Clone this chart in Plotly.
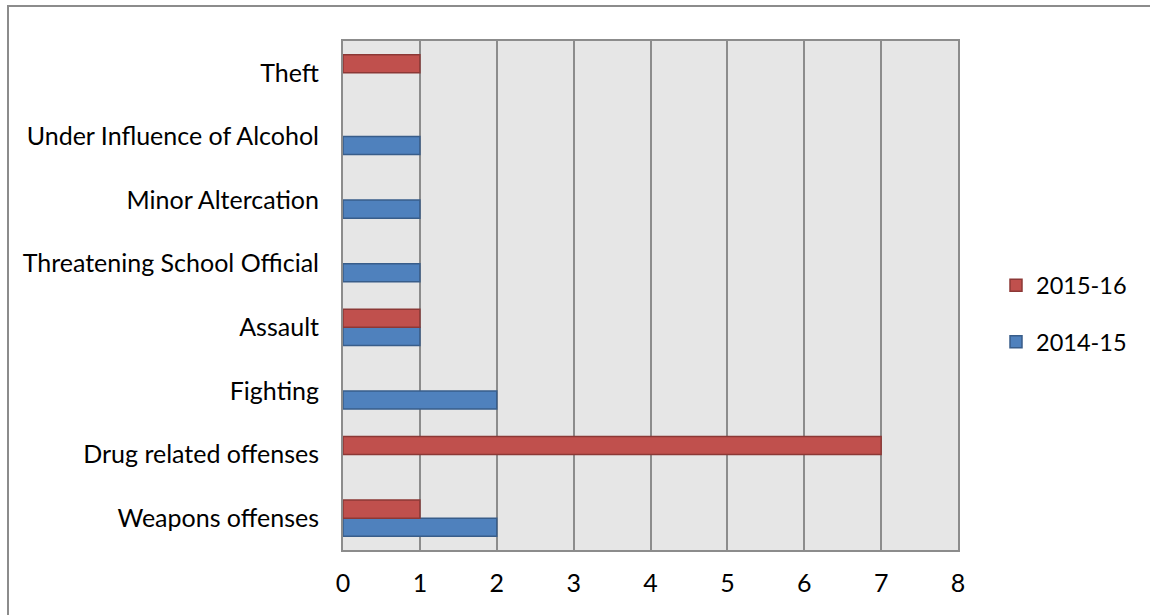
import plotly.graph_objects as go

categories = ["Weapons offenses", "Drug related offenses", "Fighting", "Assault",
              "Threatening School Official", "Minor Altercation",
              "Under Influence of Alcohol", "Theft"]
s_2014_15 = [2, None, 2, 1, 1, 1, 1, None]
s_2015_16 = [1, 7, None, 1, None, None, None, 1]
x_ticks = [0, 1, 2, 3, 4, 5, 6, 7, 8]

FONT = "Lato, 'Open Sans', sans-serif"

fig = go.Figure()
fig.add_trace(go.Bar(
    y=categories, x=s_2014_15, orientation="h", name="2014-15",
    marker=dict(color="#4F81BD", line=dict(color="#385D8A", width=1.5)),
    legendgroup="b", legendrank=2,
))
fig.add_trace(go.Bar(
    y=categories, x=s_2015_16, orientation="h", name="2015-16",
    marker=dict(color="#C0504D", line=dict(color="#8C3836", width=1.5)),
    legendgroup="a", legendrank=1,
))

L, R, T, B = 343, 192, 41, 65
W, H = 1150, 615
pw, ph = W - L - R, H - T - B

fig.update_layout(
    width=W, height=H,
    margin=dict(l=L, r=R, t=T, b=B),
    barmode="group", bargap=0.43, bargroupgap=0,
    plot_bgcolor="#E6E6E6", paper_bgcolor="white",
    font=dict(family=FONT, size=25, color="black"),
    legend=dict(x=1 + 38 / pw, y=1 - (314 - T) / ph, xanchor="left", yanchor="middle",
                tracegroupgap=23, font=dict(size=23.5),
                itemwidth=30, traceorder="grouped"),
    xaxis=dict(range=[0, 8], tickvals=x_ticks, showgrid=True,
               gridcolor="#8C8C8C", gridwidth=1.5, showline=True,
               linecolor="#8C8C8C", linewidth=2, mirror=True,
               zeroline=False, ticks="", ticklabelstandoff=10),
    yaxis=dict(showgrid=False, showline=True, linecolor="#8C8C8C",
               linewidth=2, mirror=True, ticks="", ticklabelstandoff=17,
               categoryorder="array", categoryarray=categories),
    shapes=[dict(type="rect", xref="paper", yref="paper",
                 x0=(8 - L) / pw, x1=2.0,
                 y0=-1.0, y1=1 + (T - 6) / ph,
                 line=dict(color="#8C8C8C", width=2), layer="below")],
)

fig.write_html("out.html")
